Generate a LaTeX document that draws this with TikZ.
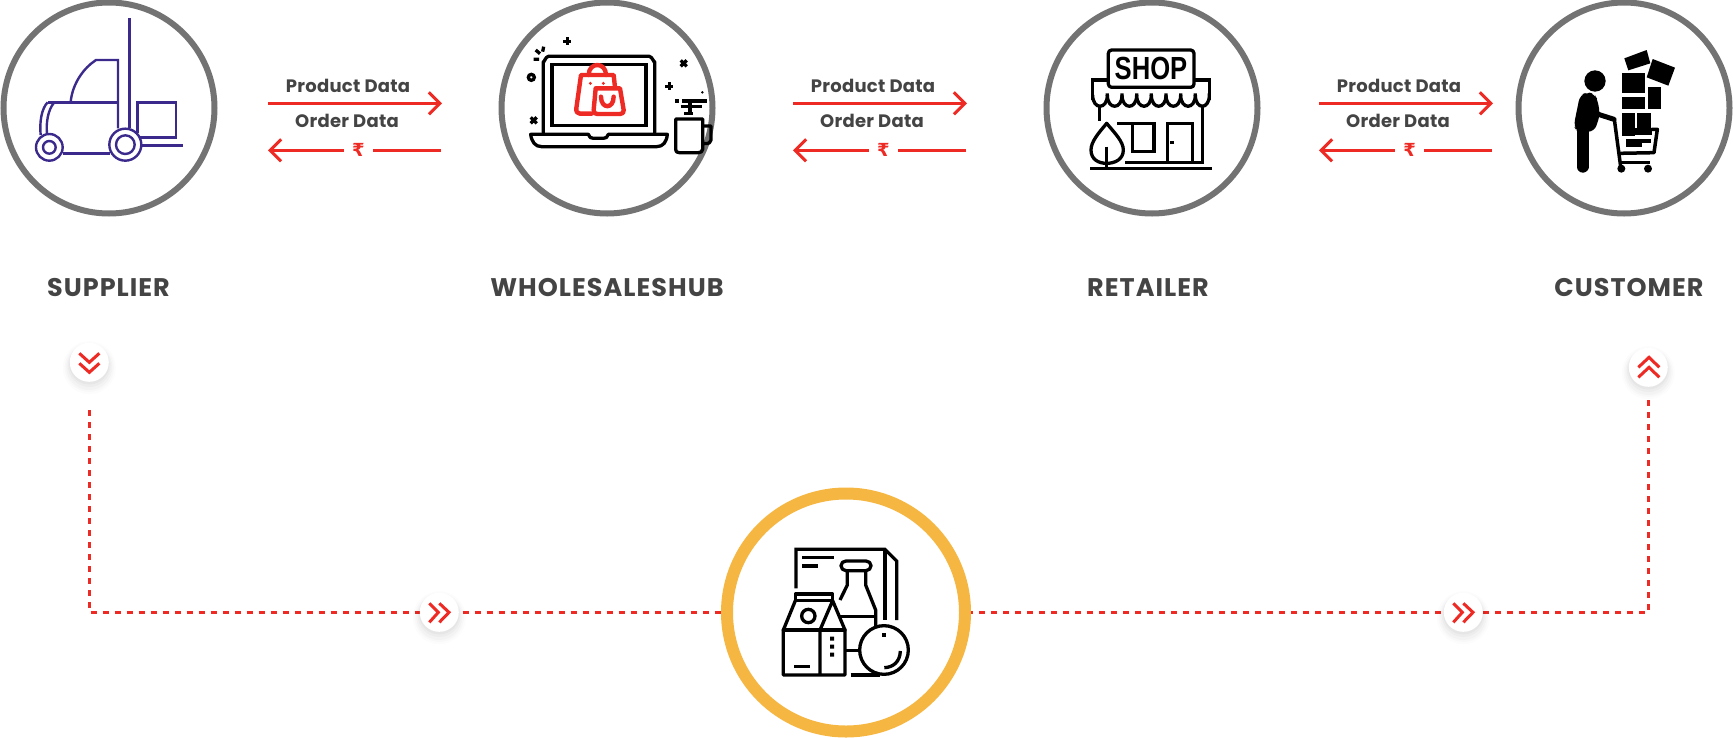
\documentclass[tikz,border=0pt]{standalone}
\usepackage{fontspec}
\setmainfont{Poppins}
\newfontfamily\datafont{Poppins}[BoldFont={Poppins Bold},LetterSpace=1.5]
\newfontfamily\titlefont{Poppins}[BoldFont={Poppins Bold},LetterSpace=4]
\newfontfamily\rupeefont{DejaVu Sans Bold}
\newfontfamily\shopfont{Liberation Sans Bold}
\usetikzlibrary{arrows.meta,shadows}
\definecolor{ringgray}{HTML}{737373}
\definecolor{ringgold}{HTML}{F6B642}
\definecolor{flowred}{HTML}{EE2A24}
\definecolor{txtgray}{HTML}{444444}
\definecolor{truckpurple}{HTML}{3B2A8C}
\tikzset{
  x=1pt,y=-1pt,
  ring/.style={circle,draw=ringgray,line width=6pt,fill=white,minimum size=211pt,inner sep=0pt,outer sep=0pt},
  hubring/.style={circle,draw=ringgold,line width=12pt,fill=white,minimum size=238pt,inner sep=0pt,outer sep=6pt},
  flow/.style={draw=flowred,line width=3pt},
  flowhead/.style={flow,-{Straight Barb[length=11pt,width=22pt,line width=3pt]}},
  dataText/.style={text=txtgray,font=\datafont\bfseries\fontsize{18}{19}\selectfont,inner sep=0pt},
  titleText/.style={text=txtgray,font=\titlefont\bfseries\fontsize{25.5}{27}\selectfont,inner sep=0pt},
  rupee/.style={text=flowred,font=\rupeefont\fontsize{18}{19}\selectfont,minimum width=29pt,inner sep=0pt},
  dotted line/.style={draw=flowred,line width=3pt,dash pattern=on 6pt off 6pt},
  badge/.style={circle,fill=white,minimum size=39pt,inner sep=0pt,outer sep=0pt,
    general shadow={fill=black,opacity=.012,shadow scale=1.36,shadow yshift=-4pt},
    general shadow={fill=black,opacity=.016,shadow scale=1.26,shadow yshift=-4pt},
    general shadow={fill=black,opacity=.02,shadow scale=1.18,shadow yshift=-4pt},
    general shadow={fill=black,opacity=.025,shadow scale=1.1,shadow yshift=-3pt},
    general shadow={fill=black,opacity=.03,shadow scale=1.03,shadow yshift=-2pt}},
  chev/.style={draw=flowred,line width=3pt},
  icon/.style={x=.33333pt,y=-.33333pt},
  ink/.style={draw=black,line width=3.3pt,line cap=butt,line join=miter},
  inkr/.style={draw=black,line width=3.3pt,line cap=round,line join=round},
  truck/.style={draw=truckpurple,line width=2.4pt},
  bag/.style={draw=flowred,line width=4.4pt,line cap=round,line join=round},
}
\begin{document}
\begin{tikzpicture}
\useasboundingbox (0,0) rectangle (1733,737);

% hub ring and dashed route
\node[hubring] (hub) at (846,612.5) {};
\coordinate (dstart) at (89,410);
\coordinate (dend) at (1648,400);
\draw[dotted line] (dstart) |- (hub.west);
\draw[dotted line,dash phase=4pt] (hub.east) -| (dend);

% rings
\node[ring] (supplier) at (109,108) {};
\node[ring] (wholesale) at (607,108) {};
\node[ring] (retailer) at (1152,108) {};
\node[ring] (customer) at (1624,108) {};

% titles
\node[titleText] (tsupplier) at (108.5,287.5) {SUPPLIER};
\node[titleText] (twholesale) at (607,287.5) {WHOLESALESHUB};
\node[titleText] (tretailer) at (1148,287.5) {RETAILER};
\node[titleText] (tcustomer) at (1629,287.5) {CUSTOMER};

% data flows
\foreach \n/\dx in {a/0,b/525,c/1051}{
  \begin{scope}[shift={(\dx,0)}]
    \coordinate (pl\n) at (268,103.3);
    \coordinate (pr\n) at (442,103.3);
    \coordinate (ol\n) at (268,150.3);
    \coordinate (or\n) at (441,150.3);
    \node[rupee] (ru\n) at (358.5,150.3) {\raisebox{-1.5pt}{₹}};
    \draw[flowhead] (pl\n) -- (pr\n);
    \draw[flow] (or\n) -- (ru\n);
    \draw[flowhead] (ru\n) -- (ol\n);
    \node[dataText] (pt\n) at (348,86) {Product Data};
    \node[dataText] (ot\n) at (347,120.5) {Order Data};
  \end{scope}
}

% badges
\node[badge] (bdown) at (89.3,362.3) {};
\node[badge] (bup) at (1648.3,367.3) {};
\node[badge] (bra) at (439.3,612.3) {};
\node[badge] (brb) at (1463.3,612.3) {};
\begin{scope}[shift={(50,330)},icon]
  \draw[chev] (88,70)--(118,97)--(148,70) (88,100)--(118,127)--(148,100);
\end{scope}
\begin{scope}[shift={(1600,340)},icon]
  \draw[chev] (115,82)--(147,52)--(178,82) (115,112)--(147,82)--(178,112);
\end{scope}
\begin{scope}[shift={(400,580)},icon]
  \draw[chev] (88,70)--(115,97)--(88,127) (118,70)--(147,97)--(118,127);
\end{scope}
\begin{scope}[shift={(1424,580)},icon]
  \draw[chev] (88,70)--(115,97)--(88,127) (118,70)--(147,97)--(118,127);
\end{scope}

% forklift icon
\begin{scope}[icon]
  \draw[truck] (388,55)--(388,385);
  \draw[truck] (212,305) .. controls (218,250) and (250,205) .. (288,180) -- (354,180) -- (354,385);
  \draw[truck] (143,307)--(354,307);
  \draw[truck] (143,307) .. controls (125,325) and (118,365) .. (122,405);
  \draw[truck] (163,307) .. controls (143,330) and (138,370) .. (141,400);
  \draw[truck] (188,460)--(330,460);
  \draw[truck] (412,400)--(412,307)--(528,307)--(528,412)--(418,412);
  \draw[truck] (425,436)--(548,436);
  \draw[truck,fill=white] (148,442) circle[radius=40];
  \draw[truck] (148,442) circle[radius=19];
  \draw[truck,fill=white] (376,434) circle[radius=48];
  \draw[truck] (376,434) circle[radius=28];
\end{scope}

% laptop icon
\begin{scope}[shift={(480,0)},icon]
  \draw[inkr] (190,398)--(190,185) to[out=-90,in=180] (205,169)--(508,169) to[out=0,in=-90] (524,185)--(524,398);
  \draw[ink] (216,194) rectangle (498,377);
  \draw[inkr] (152,403)--(325,403) .. controls (328,412) and (332,415) .. (340,415) -- (370,415) .. controls (378,415) and (382,412) .. (385,403) -- (562,403) .. controls (560,425) and (550,440) .. (530,440) -- (185,440) .. controls (165,440) and (155,425) .. (152,403) -- cycle;
  \draw[ink] (250,124)--(274,124) (262,112)--(262,136);
  \draw[ink] (556,259)--(580,259) (568,247)--(568,271);
  \draw[ink] (602,181)--(620,199) (602,199)--(620,181);
  \draw[ink] (152,352)--(170,370) (152,370)--(170,352);
  \draw[ink] (154,232) circle[radius=9];
  \draw[ink] (161,178)--(177,178) (167,150)--(180,161) (191,140)--(188,155);
  \draw[inkr] (587,357)--(668,357)--(668,448) .. controls (668,455) and (662,458) .. (655,458) -- (598,458) .. controls (590,458) and (587,455) .. (587,448) -- cycle;
  \draw[inkr] (670,378)--(693,378)--(693,420) .. controls (693,428) and (688,431) .. (670,431);
  \draw[ink] (585,303)--(598,303) (606,303)--(681,303) (602,320)--(665,320) (612,340)--(640,340) (630,303)--(630,340);
  \fill (667,277) circle[radius=4];
  % bags
  \draw[bag] (335,341)--(300,341) .. controls (292,341) and (288,335) .. (289,325) -- (303,225) -- (401,225) -- (405,262);
  \draw[bag] (326,225) .. controls (326,185) and (378,185) .. (378,225);
  \draw[bag] (347,265)--(420,265)--(431,330) .. controls (432,338) and (428,342) .. (420,342) -- (352,342) .. controls (344,342) and (340,338) .. (341,330) -- cycle;
  \draw[bag] (363,290) .. controls (363,328) and (401,328) .. (401,290);
  \fill[flowred] (331,250) circle[radius=5] (370,250) circle[radius=5];
\end{scope}

% shop icon
\begin{scope}[shift={(1030,0)},icon]
  \draw[inkr] (245,150)--(482,150) to[out=0,in=90] (492,160)--(492,252) to[out=-90,in=0] (482,262)--(245,262) to[out=180,in=-90] (235,252)--(235,160) to[out=90,in=180] cycle;
  \node[inner sep=0pt,font=\shopfont\fontsize{32}{34}\selectfont] (shoplabel) at (363,205) {\scalebox{0.8}[1]{SHOP}};
  \draw[ink] (235,240)--(188,240)--(188,300);
  \draw[ink] (492,240)--(538,240)--(538,300);
  \foreach \xa/\xb in {188/232,232/276,276/320,320/364,364/408,408/452,452/496,496/538}{
    \draw[ink] (\xa,285) .. controls (\xa,330) and (\xb,330) .. (\xb,285)--(\xb,280);
  }
  \draw[ink] (208,322)--(208,362);
  \draw[ink] (518,322)--(518,487)--(285,487);
  \draw[ink] (262,370)--(372,370)--(372,455)--(308,455)--(308,370);
  \draw[ink] (412,487)--(412,370)--(487,370)--(487,487);
  \draw[ink] (420,428)--(432,428);
  \draw[ink] (180,505)--(545,505);
  \draw[inkr] (230,370) .. controls (205,400) and (183,425) .. (183,450) .. controls (183,478) and (205,490) .. (230,490) .. controls (255,490) and (280,478) .. (280,450) .. controls (280,425) and (255,400) .. (230,370) -- cycle;
  \draw[ink] (230,440)--(230,505);
\end{scope}

% customer icon
\begin{scope}[shift={(1500,0)},icon]
  \fill (285,243) circle[radius=32];
  \fill[rounded corners=6pt] (240,285)--(262,277)--(283,281)--(293,300)--(300,345)--(283,395)--(232,395)--(221,378)--cycle;
  \draw[line width=12pt,line cap=round] (248,385)--(248,500);
  \draw[line width=5pt,line cap=round,line join=round] (292,342)--(342,358);
  \draw[line width=3.5pt,line cap=round,line join=round] (343,358)--(362,500);
  \draw[line width=3.5pt,line cap=round,line join=round] (357,460)--(462,458)--(472,388)--(455,388);
  \draw[line width=3.5pt] (362,488)--(450,488);
  \fill (364,506) circle[radius=12] (444,506) circle[radius=12];
  \fill (373,175)--(440,150)--(451,190)--(385,211)--cycle;
  \fill (458,177)--(525,203)--(505,257)--(440,232)--cycle;
  \fill (366,218) rectangle (436,280);
  \fill (443,260) rectangle (482,328);
  \fill (365,290) rectangle (435,328);
  \fill (367,338) rectangle (405,408);
  \fill (412,338) rectangle (452,385);
  \fill (406,385) rectangle (455,405);
  \fill (378,418) rectangle (425,441);
  \fill (425,418) rectangle (452,430);
\end{scope}

% food icon
\begin{scope}[shift={(710,480)},icon]
  \draw[ink] (258,325)--(258,208)--(525,208)--(560,243)--(560,420);
  \draw[ink] (525,208)--(525,420);
  \draw[ink] (277,233)--(372,233) (277,258)--(323,258);
  \draw[inkr] (408,243)--(468,243) to[out=0,in=90] (483,257) to[out=-90,in=0] (468,272)--(408,272) to[out=180,in=-90] (393,257) to[out=90,in=180] cycle;
  \draw[ink] (412,272)--(412,315)--(390,360);
  \draw[ink] (467,272)--(467,315)--(497,390)--(497,440);
  \draw[ink] (390,410)--(497,410);
  \draw[ink] (408,512)--(450,512);
  \draw[ink] (422,585)--(510,585);
  \draw[inkr] (256,362)--(256,342)--(368,342)--(368,362)--cycle;
  \draw[inkr] (256,362)--(220,450)--(220,585)--(405,585)--(405,450)--(368,362)--(330,450)--(330,585);
  \draw[inkr] (220,450)--(405,450);
  \draw[ink] (295,408) circle[radius=20];
  \draw[ink] (252,560)--(300,560);
  \fill (360,470) rectangle (372,482) (360,494) rectangle (372,506) (360,518) rectangle (372,530);
  \draw[ink,fill=white] (522,510) circle[radius=73];
  \fill (516,458) rectangle (528,470);
  \draw[ink] (571,513) .. controls (570,545) and (550,562) .. (523,563);
\end{scope}
\end{tikzpicture}
\end{document}
